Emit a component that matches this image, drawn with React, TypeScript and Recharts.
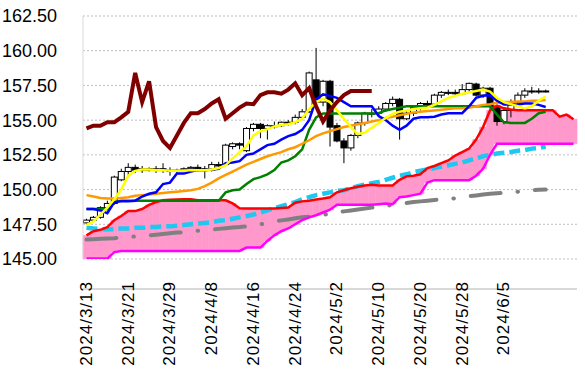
import {
  Bar,
  CartesianGrid,
  ComposedChart,
  Line,
  XAxis,
  YAxis,
} from "recharts";

const dates = [
  "2024/3/13", "2024/3/14", "2024/3/15", "2024/3/18", "2024/3/19", "2024/3/20", "2024/3/21",
  "2024/3/22", "2024/3/25", "2024/3/26", "2024/3/27", "2024/3/28", "2024/3/29",
  "2024/4/1", "2024/4/2", "2024/4/3", "2024/4/4", "2024/4/5", "2024/4/8", "2024/4/9",
  "2024/4/10", "2024/4/11", "2024/4/12", "2024/4/15", "2024/4/16", "2024/4/17", "2024/4/18",
  "2024/4/19", "2024/4/22", "2024/4/23", "2024/4/24", "2024/4/25", "2024/4/26", "2024/4/29",
  "2024/4/30", "2024/5/1", "2024/5/2", "2024/5/3", "2024/5/6", "2024/5/7", "2024/5/8",
  "2024/5/9", "2024/5/10", "2024/5/13", "2024/5/14", "2024/5/15", "2024/5/16", "2024/5/17",
  "2024/5/20", "2024/5/21", "2024/5/22", "2024/5/23", "2024/5/24", "2024/5/27", "2024/5/28",
  "2024/5/29", "2024/5/30", "2024/5/31", "2024/6/3", "2024/6/4", "2024/6/5", "2024/6/6",
  "2024/6/7", "2024/6/10", "2024/6/11", "2024/6/12", "2024/6/13", "2024/6/14", "2024/6/17",
  "2024/6/18", "2024/6/19",
];

const tickLabels = [
  "2024/3/13", "2024/3/21", "2024/3/29", "2024/4/8", "2024/4/16", "2024/4/24",
  "2024/5/2", "2024/5/10", "2024/5/20", "2024/5/28", "2024/6/5",
];

const yTicks = [145, 147.5, 150, 152.5, 155, 157.5, 160, 162.5];

// daily candles
const opens = [
  147.6, 147.8, 148.0, 148.7, 149.0, 150.7, 151.3, 151.6, 151.4, 151.5, 151.4, 151.5, 151.4,
  151.3, 151.4, 151.5, 151.6, 151.5, 151.4, 151.8, 151.8, 153.1, 153.3, 152.8, 154.4, 154.7,
  154.4, 154.6, 154.6, 154.85, 154.85, 155.2, 155.6, 157.9, 156.3, 157.8, 154.6, 153.5, 153.0,
  153.9, 154.8, 155.5, 155.5, 155.8, 156.2, 156.5, 155.1, 155.5, 155.9, 156.2, 156.15, 156.8,
  157.0, 157.0, 156.9, 157.2, 157.6, 156.8, 157.3, 156.0, 154.9, 155.7, 156.3, 156.8, 157.1,
  157.1, 157.1,
];
const highs = [
  147.9, 148.1, 148.8, 149.2, 151.0, 151.5, 151.9, 151.8, 151.7, 151.6, 151.7, 151.9, 151.6,
  151.5, 151.6, 151.7, 151.8, 151.7, 152.0, 152.0, 153.3, 153.4, 153.4, 154.5, 154.8, 154.8,
  154.7, 154.9, 154.9, 155.0, 155.4, 155.8, 158.5, 160.2, 157.9, 157.9, 154.8, 153.7, 154.0,
  154.9, 155.6, 155.8, 156.0, 156.3, 156.7, 156.6, 155.7, 156.0, 156.3, 156.4, 156.9, 157.1,
  157.2, 157.2, 157.6, 157.7, 157.7, 157.4, 157.4, 156.1, 155.9, 156.5, 157.0, 157.3, 157.4,
  157.3, 157.2,
];
const lows = [
  147.5, 147.7, 147.9, 148.5, 148.9, 150.6, 151.0, 151.2, 151.2, 151.3, 151.2, 151.2, 151.0,
  151.2, 151.3, 151.3, 151.3, 150.8, 151.3, 151.6, 151.7, 152.9, 152.9, 152.7, 154.2, 153.7,
  153.6, 154.4, 154.5, 154.6, 154.7, 155.0, 155.5, 155.8, 156.0, 153.1, 153.4, 151.9, 152.8,
  153.7, 154.6, 155.2, 155.3, 155.6, 156.0, 153.6, 155.0, 155.3, 155.7, 155.9, 156.0, 156.6,
  156.8, 156.7, 156.8, 157.0, 156.7, 156.6, 155.8, 154.6, 154.7, 155.2, 156.1, 156.6, 156.9,
  156.9, 157.0,
];
const closes = [
  147.8, 148.0, 148.7, 149.0, 150.9, 151.3, 151.6, 151.4, 151.5, 151.4, 151.5, 151.4, 151.3,
  151.4, 151.5, 151.6, 151.5, 151.4, 151.8, 151.7, 153.2, 153.3, 153.2, 154.4, 154.7, 154.4,
  154.6, 154.6, 154.85, 154.85, 155.2, 155.6, 158.4, 156.3, 157.8, 154.5, 153.5, 153.0, 153.9,
  154.8, 155.5, 155.5, 155.8, 156.2, 156.5, 155.1, 155.5, 155.9, 156.2, 156.15, 156.8, 157.0,
  157.0, 156.9, 157.2, 157.65, 156.8, 157.3, 156.0, 154.9, 155.7, 156.3, 156.8, 157.1, 157.1,
  157.1, 157.1,
];

const blueLine = [
  148.6, 148.6, 148.5, 148.3, 149.1, 149.15, 149.15, 149.2, 149.5, 149.7, 149.8, 150.4, 150.5,
  151.15, 151.15, 151.3, 151.4, 151.4, 151.45, 151.5, 151.9, 151.95, 152.05, 152.5, 152.6,
  152.9, 153.2, 153.3, 153.6, 153.85, 154.0, 154.3, 155.0, 156.5, 156.85, 156.75, 156.6, 156.3,
  156.0, 156.0, 156.0, 156.0, 155.3, 155.0, 154.6, 154.3, 154.6, 155.1, 155.2, 155.2, 155.25,
  155.4, 155.5, 155.5, 155.5, 156.0, 156.6, 156.75, 156.8, 156.4, 156.13, 156.13, 156.13,
  156.2, 156.2, 156.1, 155.95,
];
const yellowLine = [
  147.45, 147.7, 148.2, 148.7, 149.3, 150.0, 151.0, 151.35, 151.45, 151.45, 151.4, 151.4,
  151.35, 151.35, 151.35, 151.4, 151.4, 151.4, 151.45, 151.55, 151.75, 152.25, 152.7, 153.1,
  153.9, 154.2, 154.35, 154.55, 154.65, 154.7, 154.85, 155.1, 155.8, 156.3, 156.55, 156.3,
  155.7, 155.1, 154.5, 154.0, 154.1, 154.45, 154.8, 155.15, 155.45, 155.6, 155.7, 155.8,
  155.85, 155.9, 156.1, 156.35, 156.6, 156.75, 156.9, 157.0, 157.1, 157.2, 157.05, 156.6,
  156.3, 156.15, 156.0, 155.85, 156.0, 156.4, 156.7,
];
const greenLine = [
  148.6, 148.6, 148.6, 148.6, 149.1, 149.2, 149.2, 149.2, 149.2, 149.2, 149.2, 149.2, 149.2,
  149.2, 149.2, 149.2, 149.2, 149.2, 149.2, 149.2, 149.8, 149.95, 150.0, 150.4, 150.75, 150.9,
  151.1, 151.4, 151.95, 152.1, 152.4, 152.9, 154.3, 155.2, 155.48, 155.48, 155.48, 155.48,
  155.48, 155.48, 155.48, 155.48, 155.5, 155.7, 155.8, 155.9, 156.0, 156.0, 156.0, 156.0,
  156.0, 156.0, 156.0, 156.0, 156.0, 156.0, 156.0, 156.0, 156.0, 155.4, 154.85, 154.8, 154.8,
  154.8, 155.1, 155.5, 155.6,
];
const orangeLine = [
  149.6, 149.5, 149.4, 149.35, 149.35, 149.4, 149.45, 149.55, 149.6, 149.65, 149.7, 149.75,
  149.8, 149.85, 149.9, 149.95, 150.05, 150.25, 150.5, 150.8, 151.05, 151.3, 151.55, 151.8,
  152.0, 152.2, 152.4, 152.55, 152.7, 152.9, 153.05, 153.3, 153.55, 153.85, 154.05, 154.2,
  154.35, 154.5, 154.6, 154.7, 154.8, 154.9, 155.0, 155.15, 155.25, 155.35, 155.45, 155.55,
  155.6, 155.65, 155.7, 155.75, 155.8, 155.85, 155.85, 155.9, 156.0, 156.1, 156.15, 156.25,
  156.3, 156.3, 156.35, 156.35, 156.4, 156.4, 156.45,
];
const senkouA = [
  146.7, 147.0, 147.1, 147.3, 147.8, 148.1, 148.45, 148.45, 148.6, 148.9, 149.1, 149.23,
  149.27, 149.28, 149.3, 149.3, 149.23, 149.23, 149.23, 149.23, 149.23, 149.0, 148.65, 148.63,
  148.63, 148.63, 148.63, 148.63, 148.68, 148.7, 149.05, 149.15, 149.2, 149.28, 149.35, 149.45,
  149.8, 149.95, 150.1, 150.2, 150.3, 150.35, 150.3, 150.3, 150.3, 150.7, 150.95, 151.0, 151.1,
  151.55, 151.7, 151.9, 152.1, 152.45, 152.7, 152.95, 153.6, 154.5, 155.7, 156.05, 155.85,
  155.77, 155.72, 155.72, 155.72, 155.72, 155.72, 155.72, 155.25, 155.4, 155.07,
];
const senkouB = [
  145.03, 145.03, 145.03, 145.03, 145.5, 145.58, 145.58, 145.58, 145.58, 145.58, 145.58,
  145.58, 145.58, 145.58, 145.58, 145.58, 145.58, 145.58, 145.58, 145.58, 145.58, 145.58,
  145.58, 145.82, 145.82, 145.82, 146.3, 146.7, 147.0, 147.2, 147.5, 147.8, 148.0, 148.15,
  148.35, 148.55, 148.9, 148.9, 148.9, 148.9, 148.9, 148.9, 148.95, 149.0, 148.95, 149.45,
  149.5, 149.6, 149.7, 150.5, 150.68, 150.68, 150.68, 150.68, 150.68, 150.68, 151.0, 151.5,
  152.5, 153.3, 153.3, 153.3, 153.3, 153.3, 153.3, 153.3, 153.3, 153.3, 153.3, 153.3, 153.3,
];
const chikou = [
  154.4, 154.6, 154.6, 154.85, 154.85, 155.2, 155.6, 158.4, 156.3, 157.8, 154.5, 153.5, 153.0,
  153.9, 154.8, 155.5, 155.5, 155.8, 156.2, 156.5, 155.1, 155.5, 155.9, 156.2, 156.15, 156.8,
  157.0, 157.0, 156.9, 157.2, 157.65, 156.8, 157.3, 156.0, 154.9, 155.7, 156.3, 156.8, 157.1,
  157.1, 157.1, 157.1,
];
const cyanLine = [
  147.25, 147.2, 147.15, 147.15, 147.15, 147.2, 147.2, 147.25, 147.25, 147.3, 147.3, 147.35,
  147.35, 147.4, 147.45, 147.5, 147.55, 147.6, 147.65, 147.75, 147.8, 147.9, 148.0, 148.1,
  148.2, 148.35, 148.5, 148.65, 148.8, 148.95, 149.1, 149.3, 149.45, 149.6, 149.7, 149.8,
  149.9, 149.95, 150.1, 150.25, 150.35, 150.45, 150.55, 150.7, 150.85, 151.0, 151.1, 151.25,
  151.35, 151.45, 151.55, 151.65, 151.75, 151.85, 151.95, 152.1, 152.25, 152.4, 152.5, 152.6,
  152.65, 152.7, 152.8, 152.85, 152.95, 153.0, 153.1,
];
const grayLine = [
  146.4, 146.42, 146.45, 146.47, 146.5, 146.55, 146.6, 146.62, 146.65, 146.7, 146.75, 146.8,
  146.85, 146.9, 146.93, 146.97, 147.03, 147.08, 147.12, 147.17, 147.22, 147.27, 147.3, 147.35,
  147.42, 147.5, 147.6, 147.7, 147.78, 147.85, 147.93, 148.0, 148.05, 148.1, 148.18, 148.27,
  148.35, 148.43, 148.5, 148.56, 148.63, 148.7, 148.76, 148.82, 148.9, 148.97, 149.03, 149.1,
  149.15, 149.2, 149.25, 149.28, 149.32, 149.37, 149.45, 149.52, 149.58, 149.65, 149.7,
  149.73, 149.76, 149.8, 149.85, 149.9, 149.95, 149.98, 150.0,
];

const data = dates.map((date, i) => {
  const hasCandle = i < closes.length;
  return {
    date,
    cloud: [Math.min(senkouA[i], senkouB[i]), Math.max(senkouA[i], senkouB[i])],
    candle: hasCandle ? [lows[i], highs[i]] : null,
    o: hasCandle ? opens[i] : null,
    h: hasCandle ? highs[i] : null,
    l: hasCandle ? lows[i] : null,
    c: hasCandle ? closes[i] : null,
    blue: blueLine[i],
    yellow: yellowLine[i],
    green: greenLine[i],
    orange: orangeLine[i],
    spanA: senkouA[i],
    spanB: senkouB[i],
    lag: chikou[i],
    cyan: cyanLine[i],
    gray: grayLine[i],
  };
});

const FONT = "'Liberation Sans', Arial, sans-serif";

function Candle(props: any) {
  const { x, y, width, height, payload } = props;
  if (!payload || payload.c == null) return null;
  const top = Math.min(y, y + height);
  const h = Math.abs(height);
  const span = payload.h - payload.l;
  const k = span > 0 ? h / span : 0;
  const cx = x + width / 2;
  const up = payload.c >= payload.o;
  const bodyTop = top + (payload.h - Math.max(payload.o, payload.c)) * k;
  const bodyBot = top + (payload.h - Math.min(payload.o, payload.c)) * k;
  return (
    <g>
      <line x1={cx} x2={cx} y1={top} y2={top + h} stroke="#000" strokeWidth={1} />
      <rect
        x={cx - 3}
        y={bodyTop}
        width={6}
        height={Math.max(bodyBot - bodyTop, 1)}
        fill={up ? "#fff" : "#000"}
        stroke="#000"
        strokeWidth={1}
      />
    </g>
  );
}

function DateTick(props: any) {
  const { x, y, payload } = props;
  return (
    <text
      transform={`translate(${x},${y - 16}) rotate(-90)`}
      textAnchor="end"
      dominantBaseline="central"
      fontSize={17}
      fontFamily={FONT}
      letterSpacing={1}
      fill="#000"
    >
      {payload.value}
    </text>
  );
}

export default function App() {
  return (
    <div style={{ position: "absolute", left: 0, top: 0, background: "#fff" }}>
      <ComposedChart
        width={585}
        height={373}
        data={data}
        margin={{ top: 16, right: 8, bottom: 0, left: 0 }}
        barCategoryGap={0}
        barGap={0}
      >
        <CartesianGrid
          xAxisId="main"
          vertical={false}
          stroke="#bfbfbf"
          strokeDasharray="2 2"
        />
        <XAxis
          xAxisId="main"
          dataKey="date"
          ticks={tickLabels}
          interval={0}
          height={114}
          tick={<DateTick />}
          tickLine={false}
          axisLine={{ stroke: "#d9d9d9", strokeWidth: 2 }}
        />
        <XAxis xAxisId="k" dataKey="date" hide />
        <YAxis
          domain={[145, 162.5]}
          ticks={yTicks}
          width={83}
          tickSize={0}
          tickMargin={26}
          tickLine={false}
          axisLine={{ stroke: "#d9d9d9" }}
          tickFormatter={(v) => Number(v).toFixed(2)}
          tick={{ fontSize: 18, fill: "#000", fontFamily: FONT }}
          allowDataOverflow
        />
        <Bar
          xAxisId="main"
          dataKey="cloud"
          fill="#ff99cc"
          stroke="#ff99cc"
          strokeWidth={0.6}
          isAnimationActive={false}
        />
        <Bar xAxisId="k" dataKey="candle" shape={<Candle />} isAnimationActive={false} />
        <Line xAxisId="main" dataKey="gray" stroke="#808080" strokeWidth={4} strokeDasharray="30 17 0.5 17" strokeLinecap="round" dot={false} isAnimationActive={false} />
        <Line xAxisId="main" dataKey="cyan" stroke="#1ec8f0" strokeWidth={4.5} strokeDasharray="11 5" dot={false} isAnimationActive={false} />
        <Line xAxisId="main" dataKey="spanB" stroke="#ff00ff" strokeWidth={2.5} dot={false} isAnimationActive={false} />
        <Line xAxisId="main" dataKey="spanA" stroke="#ff0000" strokeWidth={2.5} dot={false} isAnimationActive={false} />
        <Line xAxisId="main" dataKey="green" stroke="#008000" strokeWidth={2.5} dot={false} isAnimationActive={false} />
        <Line xAxisId="main" dataKey="orange" stroke="#ff9900" strokeWidth={2.5} dot={false} isAnimationActive={false} />
        <Line xAxisId="main" dataKey="blue" stroke="#0000ff" strokeWidth={2.5} dot={false} isAnimationActive={false} />
        <Line xAxisId="main" dataKey="yellow" stroke="#ffff00" strokeWidth={2.5} dot={false} isAnimationActive={false} />
        <Line xAxisId="main" dataKey="lag" stroke="#800000" strokeWidth={4} dot={false} isAnimationActive={false} />
      </ComposedChart>
    </div>
  );
}
